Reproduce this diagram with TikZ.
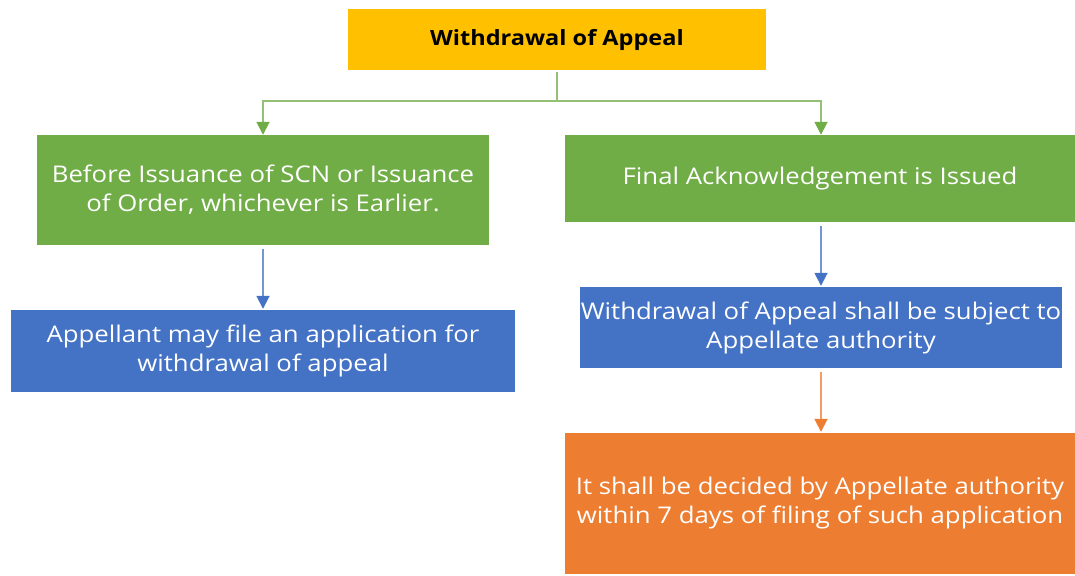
\documentclass[tikz,border=0pt]{standalone}
\usepackage{fontspec}
\setmainfont{Open Sans}[FakeStretch=1.12]
\usetikzlibrary{arrows.meta}
\definecolor{cyellow}{HTML}{FFC000}
\definecolor{cgreen}{HTML}{70AD47}
\definecolor{cblue}{HTML}{4472C4}
\definecolor{corange}{HTML}{ED7D31}
\begin{document}
\begin{tikzpicture}[x=1pt,y=-1pt,
  box/.style={rectangle, inner sep=0pt, align=center, text=white,
    font=\fontsize{23}{29}\selectfont},
  link/.style={line width=1.8pt, draw=#1!75!white,
    -{Triangle[width=13pt,length=13pt,fill=#1,color=#1]}}]
\useasboundingbox (0,0) rectangle (1075,575);
% boxes
\node[box, fill=cyellow, text=black, minimum width=418pt, minimum height=61pt,
  font=\fontsize{21}{26}\selectfont\bfseries] (title) at (557,39.5) {Withdrawal of Appeal};
\node[box, fill=cgreen, minimum width=452pt, minimum height=110pt] (before) at (263,190)
  {Before Issuance of SCN or Issuance\\of Order, whichever is Earlier.};
\node[box, fill=cgreen, minimum width=510pt, minimum height=87pt] (final) at (820,178.5)
  {Final Acknowledgement is Issued};
\node[box, fill=cblue, minimum width=504pt, minimum height=82pt] (appellant) at (263,351)
  {Appellant may file an application for\\withdrawal of appeal};
\node[box, fill=cblue, minimum width=482pt, minimum height=81pt] (subject) at (821,327.5)
  {Withdrawal of Appeal shall be subject to\\Appellate authority};
\node[box, fill=corange, minimum width=510pt, minimum height=141pt] (decided) at (820,503.5)
  {It shall be decided by Appellate authority\\within 7 days of filing of such application};
% connectors
\coordinate (split) at (557,101);
\draw[line width=1.8pt, draw=cgreen!75!white, shorten <=2pt] (title.south) -- (split);
\draw[link=cgreen] (split) -| ([xshift=0pt]before.north);
\draw[link=cgreen] (split) -| ([xshift=1pt]final.north);
\draw[link=cblue, shorten <=4pt, shorten >=1pt] (before.south) -- (appellant.north);
\draw[link=cblue, shorten <=4pt, shorten >=1pt] ([xshift=1pt]final.south) -- (subject.north);
\draw[link=corange, shorten <=4pt, shorten >=1pt] (subject.south) -- ([xshift=1pt]decided.north);
\end{tikzpicture}
\end{document}
